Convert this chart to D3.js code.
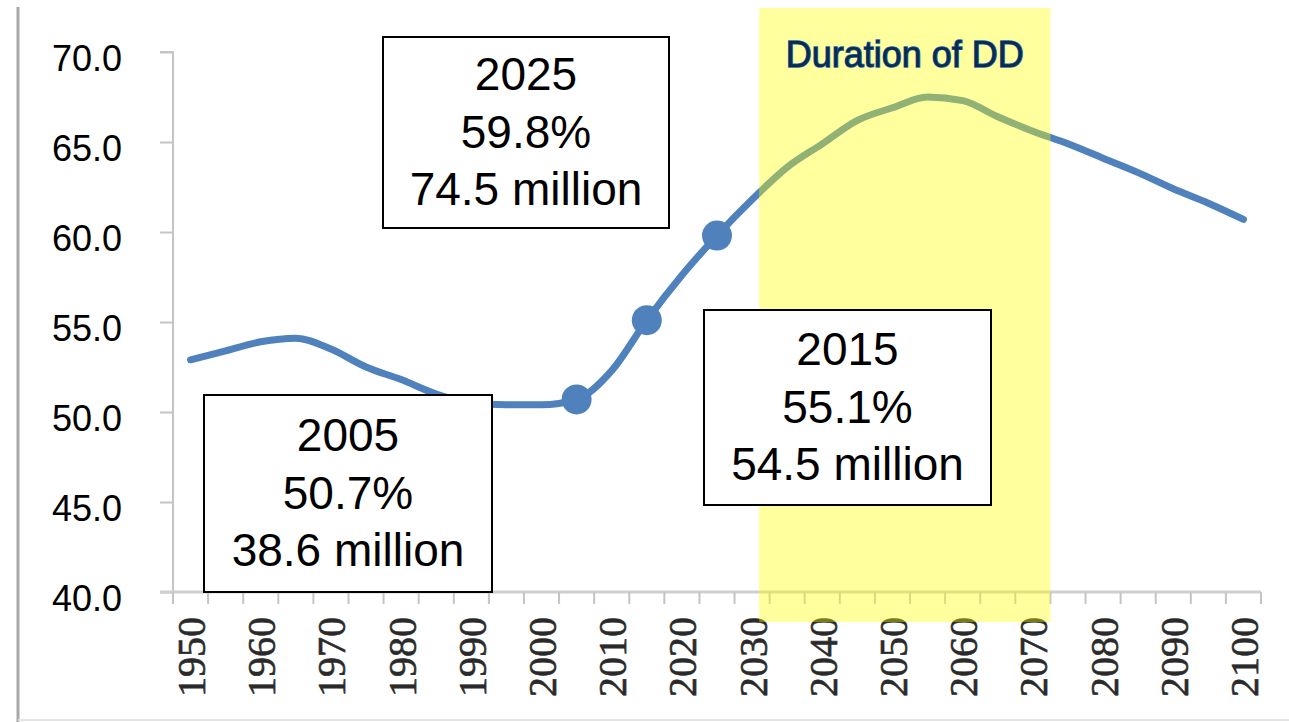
<!DOCTYPE html>
<html>
<head>
<meta charset="utf-8">
<script src="https://cdn.jsdelivr.net/npm/d3@7"></script>
<style>
  body { margin: 0; background: #fff; }
  svg { display: block; }
</style>
</head>
<body>
<script>
var svgWidth = 1289;
var svgHeight = 722;

// data
var years = [1950, 1955, 1960, 1965, 1970, 1975, 1980, 1985, 1990, 1995, 2000,
  2005, 2010, 2015, 2020, 2025, 2030, 2035, 2040, 2045, 2050, 2055, 2060,
  2065, 2070, 2075, 2080, 2085, 2090, 2095, 2100];
var shareValues = [52.9, 53.4, 53.9, 54.1, 53.5, 52.5, 51.8, 51.0, 50.5, 50.4, 50.4,
  50.7, 52.3, 55.1, 57.6, 59.8, 61.8, 63.6, 64.9, 66.2, 66.9, 67.5, 67.3,
  66.4, 65.6, 64.9, 64.1, 63.3, 62.4, 61.6, 60.7];
var markedYears = [2005, 2015, 2025];
var yTicks = [40, 45, 50, 55, 60, 65, 70];
var xLabelYears = [1950, 1960, 1970, 1980, 1990, 2000, 2010, 2020, 2030, 2040,
  2050, 2060, 2070, 2080, 2090, 2100];
var ddSpan = [2031, 2072.5];
var ddLabel = "Duration of DD";
var calloutYears = ["2005", "2015", "2025"];
var calloutShares = ["50.7%", "55.1%", "59.8%"];
var calloutPeople = ["38.6 million", "54.5 million", "74.5 million"];

// where the boxes sit on the page
var calloutBoxes = [
  {x: 204, y: 395, w: 288, h: 197},
  {x: 704, y: 310, w: 287, h: 195},
  {x: 383, y: 37, w: 286, h: 191}
];

var svg = d3.select("body").append("svg")
  .attr("width", svgWidth)
  .attr("height", svgHeight);

var x = d3.scaleBand().domain(years).range([173, 1261]);
var bw = x.bandwidth();
var xYear = d3.scaleLinear()
  .domain([1950, 2100])
  .range([x(1950) + bw / 2, x(2100) + bw / 2]);
var y = d3.scaleLinear().domain([40, 70]).range([592, 52]);

// frame lines of the slide
svg.append("line").attr("x1", 18).attr("x2", 18).attr("y1", 7).attr("y2", svgHeight)
  .attr("stroke", "#a8a8a8").attr("stroke-width", 3);
svg.append("line").attr("x1", 18).attr("x2", svgWidth).attr("y1", 720).attr("y2", 720)
  .attr("stroke", "#e4e4e4").attr("stroke-width", 2);

// y axis
var yAxis = svg.append("g")
  .attr("transform", "translate(173,0)")
  .call(d3.axisLeft(y).tickValues(yTicks).tickFormat(d3.format(".1f"))
    .tickSize(13).tickPadding(38));
yAxis.select(".domain").attr("stroke", "#c4c4c4").attr("stroke-width", 2)
  .attr("d", "M-13," + y(70) + "H0V" + y(40));
yAxis.selectAll(".tick line").attr("stroke", "#c4c4c4").attr("stroke-width", 2);
yAxis.selectAll(".tick text")
  .attr("font-family", "Arial, 'Liberation Sans', sans-serif")
  .attr("font-size", 36)
  .attr("fill", "#000")
  .attr("dy", "0.5em");

// x axis (category axis, ticks between categories)
var xAxis = svg.append("g");
xAxis.append("line")
  .attr("x1", 160).attr("x2", x(2100) + bw)
  .attr("y1", y(40)).attr("y2", y(40))
  .attr("stroke", "#cfcfcf").attr("stroke-width", 3);
var tickPos = years.map(function (d) { return x(d); }).concat([x(2100) + bw]);
xAxis.selectAll(".xtick").data(tickPos).enter().append("line")
  .attr("x1", function (d) { return d; }).attr("x2", function (d) { return d; })
  .attr("y1", y(40)).attr("y2", y(40) + 12)
  .attr("stroke", "#c4c4c4").attr("stroke-width", 2);
xAxis.selectAll(".xlab").data(xLabelYears).enter().append("text")
  .attr("transform", function (d) {
    return "translate(" + (x(d) + bw / 2 + 1) + "," + 617 + ") rotate(-90)";
  })
  .attr("text-anchor", "end")
  .attr("dominant-baseline", "central")
  .attr("font-family", "'Liberation Serif', 'Times New Roman', serif")
  .attr("font-size", 40)
  .attr("fill", "#2a2a2a")
  .attr("stroke", "#2a2a2a")
  .attr("stroke-width", 0.6)
  .text(function (d) { return d; });

// the series
var line = d3.line()
  .x(function (d, i) { return x(years[i]) + bw / 2; })
  .y(function (d) { return y(d); })
  .curve(d3.curveMonotoneX);
svg.append("path")
  .datum(shareValues)
  .attr("d", line)
  .attr("fill", "none")
  .attr("stroke", "#4f81bd")
  .attr("stroke-width", 7)
  .attr("stroke-linejoin", "round")
  .attr("stroke-linecap", "round");

svg.selectAll(".marker").data(markedYears).enter().append("circle")
  .attr("cx", function (d) { return x(d) + bw / 2; })
  .attr("cy", function (d) { return y(shareValues[years.indexOf(d)]); })
  .attr("r", 15)
  .attr("fill", "#4f81bd");

// highlighted span, drawn over the line
svg.append("rect")
  .attr("x", xYear(ddSpan[0]))
  .attr("width", xYear(ddSpan[1]) - xYear(ddSpan[0]))
  .attr("y", 8)
  .attr("height", 614)
  .attr("fill", "#ffff00")
  .attr("opacity", 0.38);

svg.append("text")
  .attr("x", xYear((ddSpan[0] + ddSpan[1]) / 2))
  .attr("y", 67)
  .attr("text-anchor", "middle")
  .attr("font-family", "Arial, 'Liberation Sans', sans-serif")
  .attr("font-size", 36)
  .attr("fill", "#0c2a50")
  .attr("stroke", "#2268aa")
  .attr("stroke-width", 1.4)
  .attr("paint-order", "stroke")
  .text(ddLabel);

// callout boxes
calloutBoxes.forEach(function (b, i) {
  var g = svg.append("g");
  g.append("rect")
    .attr("x", b.x).attr("y", b.y).attr("width", b.w).attr("height", b.h)
    .attr("fill", "#fff").attr("stroke", "#000").attr("stroke-width", 2);
  var lines = [calloutYears[i], calloutShares[i], calloutPeople[i]];
  lines.forEach(function (t, j) {
    g.append("text")
      .attr("x", b.x + b.w / 2)
      .attr("y", b.y + b.h / 2 + (j - 1) * 57.5)
      .attr("dy", "0.33em")
      .attr("text-anchor", "middle")
      .attr("font-family", "Arial, 'Liberation Sans', sans-serif")
      .attr("font-size", 46)
      .attr("fill", "#000")
      .text(t);
  });
});
</script>
</body>
</html>
